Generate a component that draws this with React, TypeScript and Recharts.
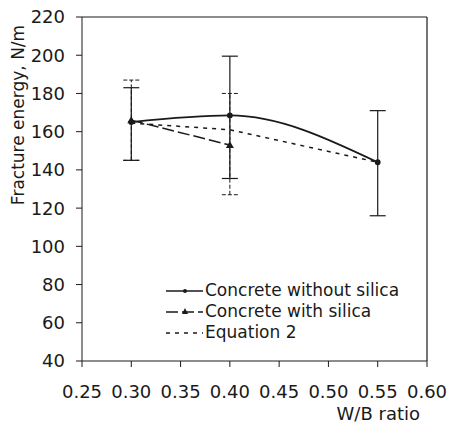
import {
  ComposedChart,
  Line,
  XAxis,
  YAxis,
  ErrorBar,
  ReferenceLine,
} from "recharts";

/* ── data ─────────────────────────────────────────────────────────── */

const wbRatio = [0.3, 0.4, 0.55];
const withoutSilica = [165, 168.5, 144];
const withoutSilicaErr = [
  [20, 18],
  [33, 31],
  [28, 27],
];
const withSilica = [166, 153, null];
const withSilicaErr = [
  [21, 21],
  [26, 27],
  null,
];
const equation2 = [164.5, 161, 144];

const xTicks = [0.25, 0.3, 0.35, 0.4, 0.45, 0.5, 0.55, 0.6];
const yTicks = [40, 60, 80, 100, 120, 140, 160, 180, 200, 220];

const legendItems = [
  { label: "Concrete without silica", dash: undefined, marker: "dot" },
  { label: "Concrete with silica", dash: "12 4", marker: "tri" },
  { label: "Equation 2", dash: "4 5", marker: "none" },
];

const rows = wbRatio.map((x, i) => ({
  x,
  without: withoutSilica[i],
  withoutErr: withoutSilicaErr[i],
  withSil: withSilica[i],
  withErr: withSilicaErr[i],
  eq2: equation2[i],
}));

const INK = "#1a1a1a";
const FONT = "'DejaVu Sans', Arial, sans-serif";
const tickStyle = { fontSize: 18, fill: INK, fontFamily: FONT };

/* ── little helpers ───────────────────────────────────────────────── */

function TriangleDot(props: any) {
  const { cx, cy } = props;
  if (cx == null || cy == null) return null;
  return (
    <polygon
      points={`${cx},${cy - 4} ${cx - 4},${cy + 3} ${cx + 4},${cy + 3}`}
      fill={INK}
    />
  );
}

// legend sits inside the plot box, lower right
function ChartLegend() {
  return (
    <div
      style={{
        position: "absolute",
        left: 165,
        top: 280,
        fontFamily: FONT,
        fontSize: 17,
        color: INK,
        lineHeight: "21px",
      }}
    >
      {legendItems.map((it) => (
        <div key={it.label} style={{ display: "flex", alignItems: "center" }}>
          <svg width={39} height={12} style={{ marginRight: 1 }}>
            <line
              x1={1}
              y1={6}
              x2={38}
              y2={6}
              stroke={INK}
              strokeWidth={1.5}
              strokeDasharray={it.dash}
            />
            {it.marker === "dot" && <circle cx={20} cy={6} r={2} fill={INK} />}
            {it.marker === "tri" && <polygon points="20,2 17,8 23,8" fill={INK} />}
          </svg>
          <span>{it.label}</span>
        </div>
      ))}
    </div>
  );
}

function YTitle(props: any) {
  const { viewBox } = props;
  const x = viewBox.x + 18;
  const y = viewBox.y + 98;
  return (
    <text
      x={x}
      y={y}
      transform={`rotate(-90, ${x}, ${y})`}
      textAnchor="middle"
      dominantBaseline="central"
      fontSize={17}
      fontFamily={FONT}
      fill={INK}
    >
      Fracture energy, N/m
    </text>
  );
}

/* ── chart ────────────────────────────────────────────────────────── */

export default function App() {
  return (
    <div style={{ position: "absolute", left: 0, top: 0, width: 451, height: 427, background: "#fff" }}>
      <ComposedChart
        width={451}
        height={427}
        data={rows}
        margin={{ top: 17, right: 24, bottom: 0, left: 0 }}
      >
        <XAxis
          dataKey="x"
          type="number"
          domain={[0.25, 0.6]}
          ticks={xTicks}
          tickFormatter={(v: number) => v.toFixed(2)}
          tick={tickStyle}
          tickSize={6}
          tickMargin={18}
          stroke={INK}
          height={66}
          allowDataOverflow
          label={{
            value: "W/B ratio",
            position: "insideBottomRight",
            offset: 7,
            fontSize: 18,
            fontFamily: FONT,
            fill: INK,
          }}
        />
        <YAxis
          type="number"
          domain={[40, 220]}
          ticks={yTicks}
          tick={tickStyle}
          tickSize={6}
          tickMargin={11}
          stroke={INK}
          width={82}
          allowDataOverflow
          label={<YTitle />}
        />
        <ReferenceLine y={220} stroke={INK} strokeWidth={1.2} />
        <ReferenceLine x={0.6} stroke={INK} strokeWidth={1.2} />
        <Line
          dataKey="eq2"
          type="linear"
          stroke={INK}
          strokeWidth={1.5}
          strokeDasharray="4 5"
          dot={false}
          isAnimationActive={false}
        />
        <Line
          dataKey="withSil"
          type="linear"
          stroke={INK}
          strokeWidth={1.5}
          strokeDasharray="12 4"
          dot={<TriangleDot />}
          isAnimationActive={false}
        >
          <ErrorBar dataKey="withErr" width={8} stroke={INK} strokeWidth={1} strokeDasharray="4 2" />
        </Line>
        <Line
          dataKey="without"
          type="monotone"
          stroke={INK}
          strokeWidth={1.8}
          dot={{ r: 2, fill: INK, stroke: INK }}
          isAnimationActive={false}
        >
          <ErrorBar dataKey="withoutErr" width={8} stroke={INK} strokeWidth={1.2} />
        </Line>
      </ComposedChart>
      <ChartLegend />
    </div>
  );
}
